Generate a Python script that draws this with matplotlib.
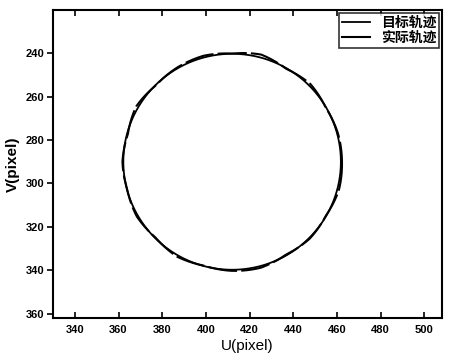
import numpy as np
import matplotlib.pyplot as plt

plt.rcParams['font.family'] = ['Liberation Sans', 'Noto Sans CJK SC', 'DejaVu Sans']

# target circle (pixel coords)
center_u, center_v = 412.0, 290.0
radius = 49.8

angles_deg = [0, 15, 30, 45, 60, 75, 90, 105, 120, 135, 150, 165,
              180, 195, 210, 225, 240, 255, 270, 285, 300, 315, 330, 345]
actual_r = [50.3, 50.6, 49.6, 50.2, 49.4, 50.6, 50.3, 49.6, 50.5, 49.5, 50.4, 49.7,
            50.2, 49.4, 50.8, 49.6, 50.2, 50.6, 49.9, 51.2, 49.5, 50.7, 49.6, 50.2]

# x/y axis ticks
u_ticks = [340, 360, 380, 400, 420, 440, 460, 480, 500]
v_ticks = [240, 260, 280, 300, 320, 340, 360]

fig = plt.figure(figsize=(4.49, 3.56), dpi=100)
ax = fig.add_axes([0.118, 0.107, 0.866, 0.865])

t = np.linspace(0, 2 * np.pi, 400)
ax.plot(center_u + radius * np.cos(t), center_v + radius * np.sin(t),
        color='black', lw=1.3, label='目标轨迹')

a = np.deg2rad(np.array(angles_deg + [360]))
r = np.array(actual_r + [actual_r[0]])
tt = np.linspace(0, 2 * np.pi, 400)
rr = np.interp(tt, a, r)
ax.plot(center_u + rr * np.cos(tt), center_v + rr * np.sin(tt),
        color='black', lw=1.5, dashes=(14, 2), label='实际轨迹')

ax.set_xlim(330, 508)
ax.set_ylim(362, 220)
ax.set_xticks(u_ticks)
ax.set_yticks(v_ticks)
for lab in ax.get_xticklabels() + ax.get_yticklabels():
    lab.set_fontweight('bold')
ax.tick_params(axis='x', direction='in', labelsize=8, top=True, length=4, width=1.2, pad=5)
ax.tick_params(axis='y', direction='out', labelsize=8, length=4, width=1.2, pad=2)
for s in ax.spines.values():
    s.set_linewidth(1.5)

ax.set_xlabel('U(pixel)', fontsize=11, labelpad=3)
ax.set_ylabel('V(pixel)', fontsize=11, fontweight='bold', labelpad=4)

leg = ax.legend(loc='upper right', fontsize=10, frameon=True, fancybox=False,
                edgecolor='black', borderaxespad=0.2, handlelength=2.0,
                labelspacing=0.1, borderpad=0.2, prop={'weight': 'bold', 'size': 10,
                                                       'family': ['Noto Sans CJK SC']})
leg.get_frame().set_linewidth(1.2)
for h in leg.get_lines():
    h.set_linestyle('-')

fig.savefig('out.png', dpi=100)
